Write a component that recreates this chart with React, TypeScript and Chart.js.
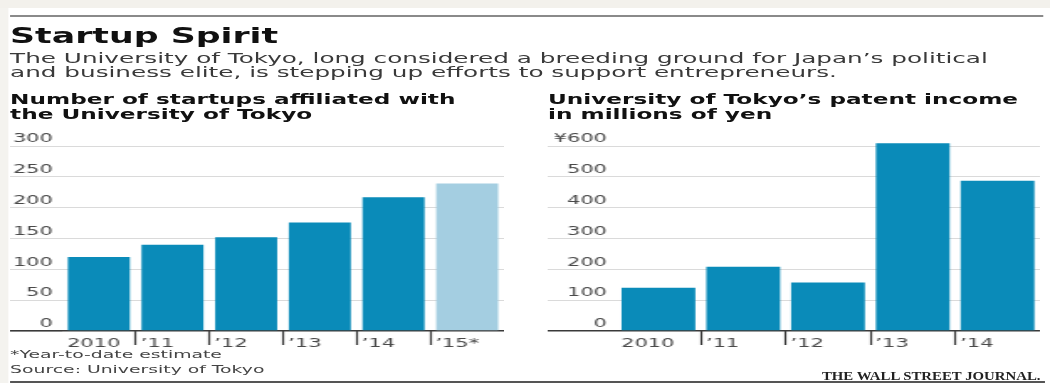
import React, { useEffect, useRef } from 'react';
import { Chart, registerables } from 'chart.js';

Chart.register(...registerables);

// ---------- data ----------
const startupYears = ['2010', '\u201911', '\u201912', '\u201913', '\u201914', '\u201915*'];
const startupCounts = [120, 140, 152, 176, 217, 239];
const estimatedYears = ['\u201915*'];
const startupTickLabels = ['0', '50', '100', '150', '200', '250', '300'];

const patentYears = ['2010', '\u201911', '\u201912', '\u201913', '\u201914'];
const patentIncome = [140, 208, 157, 609, 487];
const patentTickLabels = ['0', '100', '200', '300', '400', '500', '\u00a5600'];

// ---------- style ----------
const SX = 1.68; // horizontal stretch of the whole graphic
const FONT = "'DejaVu Sans', sans-serif";
const BLUE = '#0a8bb9';
const LIGHT = '#a4cee1';
const GRID = '#dadada';
const AXIS = '#3a3a3a';
const TICK_TEXT = '#4a4a4a';

type ChartProps = {
  labels: string[];
  values: number[];
  tickLabels: string[];
  step: number;
  left: number;
  top: number;
  width: number;
  height: number;
  yWidth: number;
  labelGap: number;
  barPct: number;
  padTop: number;
  xHeight: number;
};

function BarChart(p: ChartProps) {
  const ref = useRef<HTMLCanvasElement>(null);
  useEffect(() => {
    const canvas = ref.current!;
    const catW = (p.width - p.yWidth) / p.labels.length;
    const max = (p.tickLabels.length - 1) * p.step;
    const chart = new Chart(canvas, {
      type: 'bar',
      data: {
        labels: p.labels,
        datasets: [
          {
            data: p.values,
            backgroundColor: (ctx: any) =>
              estimatedYears.includes(p.labels[ctx.dataIndex]) ? LIGHT : BLUE,
            borderWidth: 0,
            barPercentage: p.barPct,
            categoryPercentage: 1,
            clip: false as any,
          },
        ],
      },
      options: {
        responsive: false,
        animation: false,
        devicePixelRatio: 1,
        layout: { padding: { top: p.padTop, left: 0, right: 0, bottom: 0 } },
        plugins: { legend: { display: false }, tooltip: { enabled: false }, title: { display: false } },
        scales: {
          x: {
            offset: true,
            grid: {
              offset: true,
              drawOnChartArea: false,
              drawTicks: true,
              tickLength: 14,
              tickWidth: 1.2,
              tickColor: (ctx: any) => (ctx.type === 'tick' && ctx.index > 0 ? AXIS : 'rgba(0,0,0,0)'),
            },
            border: { display: false },
            ticks: {
              autoSkip: false,
              maxRotation: 0,
              minRotation: 0,
              align: 'start',
              labelOffset: -catW / 2 + 3,
              padding: -8.5,
              color: TICK_TEXT,
              font: { family: FONT, size: 12.5 },
            },
            afterFit: (s: any) => {
              s.height = p.xHeight;
            },
          },
          y: {
            min: 0,
            max,
            grid: {
              drawTicks: true,
              tickLength: p.yWidth,
              color: (ctx: any) => (ctx.tick && ctx.tick.value === 0 ? AXIS : GRID),
              lineWidth: (ctx: any) => (ctx.tick && ctx.tick.value === 0 ? 1.6 : 1),
            },
            border: { display: false },
            ticks: {
              stepSize: p.step,
              callback: (_v: any, i: number) => p.tickLabels[i],
              padding: p.labelGap - p.yWidth,
              labelOffset: -7,
              color: TICK_TEXT,
              font: { family: FONT, size: 12.5 },
            },
            afterFit: (s: any) => {
              s.width = p.yWidth;
            },
          },
        },
      },
    } as any);
    return () => chart.destroy();
  }, []);
  return (
    <canvas
      ref={ref}
      width={p.width}
      height={p.height}
      style={{ position: 'absolute', left: p.left, top: p.top, width: p.width, height: p.height }}
    />
  );
}

const abs = (left: number, top: number, extra: React.CSSProperties = {}): React.CSSProperties => ({
  position: 'absolute',
  left,
  top,
  whiteSpace: 'nowrap',
  fontFamily: FONT,
  margin: 0,
  ...extra,
});

export default function App() {
  const W = 1050 / SX;
  const chartTop = 128;
  const chartH = 232;
  return (
    <div style={{ position: 'absolute', left: 0, top: 0, width: 1050, height: 383, overflow: 'hidden', background: '#ffffff' }}>
      <div
        style={{
          position: 'absolute',
          left: 0,
          top: 0,
          width: W,
          height: 383,
          transform: `scale(${SX}, 1)`,
          transformOrigin: '0 0',
        }}
      >
        {/* page edges */}
        <div style={{ position: 'absolute', left: 0, top: 0, width: W, height: 8, background: '#f3f1ec' }} />
        <div style={{ position: 'absolute', left: 0, top: 8, width: 5.2, height: 375, background: '#f4f3ef' }} />
        {/* top rule */}
        <div style={{ position: 'absolute', left: 6, top: 15, width: 1033 / SX, height: 2, background: '#8a8a8a' }} />
        {/* bottom rule */}
        <div style={{ position: 'absolute', left: 6, top: 381, width: 1035 / SX, height: 2, background: '#555' }} />

        <div style={abs(6, 24.1, { fontSize: 20.7, lineHeight: '24px', fontWeight: 'bold', color: '#111' })}>
          Startup Spirit
        </div>
        <div style={abs(6, 50.6, { fontSize: 14.7, lineHeight: '14px', color: '#3a3a3a' })}>
          The University of Tokyo, long considered a breeding ground for Japan’s political
          <br />
          and business elite, is stepping up efforts to support entrepreneurs.
        </div>

        <div style={abs(6, 91.6, { fontSize: 13.8, lineHeight: '15.3px', fontWeight: 'bold', color: '#111' })}>
          Number of startups affiliated with
          <br />
          the University of Tokyo
        </div>
        <div style={abs(548 / SX, 91.6, { fontSize: 13.8, lineHeight: '15.3px', fontWeight: 'bold', color: '#111' })}>
          University of Tokyo’s patent income
          <br />
          in millions of yen
        </div>

        <BarChart
          labels={startupYears}
          values={startupCounts}
          tickLabels={startupTickLabels}
          step={50}
          left={6}
          top={chartTop}
          width={294}
          height={chartH}
          yWidth={30.9}
          labelGap={5.4}
          barPct={0.842}
          padTop={146 - chartTop}
          xHeight={360 - 331}
        />
        <BarChart
          labels={patentYears}
          values={patentIncome}
          tickLabels={patentTickLabels}
          step={100}
          left={326}
          top={chartTop}
          width={293}
          height={chartH}
          yWidth={40.7}
          labelGap={5.4}
          barPct={0.87}
          padTop={146 - chartTop}
          xHeight={360 - 331}
        />

        <div style={abs(6, 346.5, { fontSize: 11.2, lineHeight: '15.5px', color: '#444' })}>
          *Year-to-date estimate
          <br />
          Source: University of Tokyo
        </div>
        <div
          style={{
            position: 'absolute',
            right: W - 619,
            top: 371,
            whiteSpace: 'nowrap',
            fontFamily: "'Liberation Serif', serif",
            fontWeight: 'bold',
            fontSize: 11.7,
            lineHeight: '12px',
            color: '#222',
            transform: 'scaleX(0.755)',
            transformOrigin: '100% 0',
          }}
        >
          THE WALL STREET JOURNAL.
        </div>
      </div>
    </div>
  );
}
